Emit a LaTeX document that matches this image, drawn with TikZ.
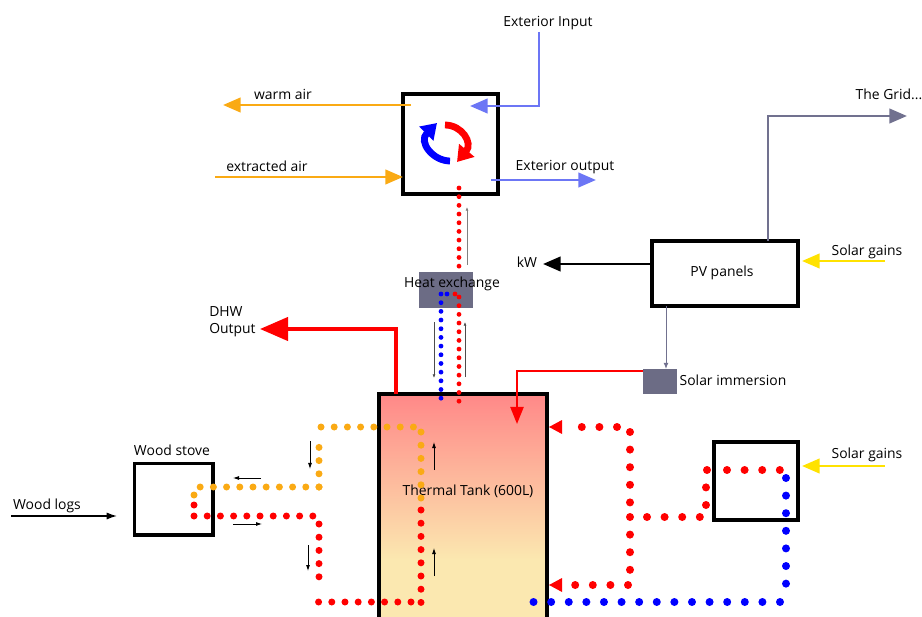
\documentclass[tikz,border=0pt]{standalone}
\usepackage{fontspec}
\setmainfont{Open Sans}
\usetikzlibrary{arrows.meta,calc,positioning}
\definecolor{cair}{RGB}{250,170,20}
\definecolor{cext}{RGB}{108,118,245}
\definecolor{csun}{RGB}{255,226,0}
\definecolor{cslate}{RGB}{108,108,133}
\definecolor{cgrid}{RGB}{113,113,143}
\definecolor{ctanktop}{RGB}{255,136,136}
\definecolor{ctanklow}{RGB}{251,232,176}
\tikzset{
  box/.style={rectangle,draw=black,line width=0.85mm,fill=white,outer sep=0pt,inner sep=0pt},
  hxbox/.style={rectangle,fill=cslate,draw=none,outer sep=0pt,inner sep=0pt},
  lab/.style={font=\fontsize{9.9}{12.6}\selectfont,inner sep=0pt,align=left,yshift=-0.15mm},
  flow/.style={-{Triangle[length=4.4mm,width=3.6mm]},line width=0.7mm},
  hotflow/.style={-{Triangle[length=7mm,width=5.8mm]},line width=0.9mm,red},
  thinflow/.style={-{Latex[length=1.5mm,width=1mm]},line width=0.2mm},
  thinnerflow/.style={-{Latex[length=0.9mm,width=0.7mm]},line width=0.15mm},
  % dotted pipes, three sizes
  pipes/.style={line cap=round,line width=1.2mm,dash pattern=on 0pt off 2.17mm},
  pipem/.style={line cap=round,line width=1.75mm,dash pattern=on 0pt off 3.3mm},
  pipel/.style={line cap=round,line width=2mm,dash pattern=on 0pt off 4.4mm},
  cycle/.style={-{Triangle[length=3.8mm,width=4.8mm]},line width=1.7mm}
}
\begin{document}
\begin{tikzpicture}[x=0.025cm,y=-0.025cm,>=Latex]
  \useasboundingbox (0,0) rectangle (922,617);

  % thermal tank, runs off the bottom edge
  \shade[top color=ctanktop,bottom color=ctanklow] (379,394) rectangle (547,560);
  \fill[ctanklow] (379,559) rectangle (547,617);
  \node[box,fill=none,minimum width=4.2cm,minimum height=6cm,anchor=north west] (tank) at (379,394) {};
  \node[lab] (tanklab) at (468,491) {Thermal Tank (600L)};

  % boxes
  \node[box,minimum width=2.375cm,minimum height=2.5cm,anchor=north west] (hrv) at (403,94) {};
  \node[box,minimum width=3.65cm,minimum height=1.625cm,anchor=north west] (pv) at (652,241) {};
  \node[box,minimum width=1.96cm,minimum height=1.79cm,anchor=north west] (stove) at (134.5,463.5) {};
  \node[box,minimum width=2.1cm,minimum height=1.95cm,anchor=north west] (collector) at (714,442) {};
  \node[hxbox,minimum width=1.35cm,minimum height=0.9cm,anchor=north west] (hx) at (419,272) {};
  \node[hxbox,minimum width=0.85cm,minimum height=0.625cm,anchor=north west] (immersion) at (643,369) {};

  % labels
  \node[lab] (pvlab) at (722,272) {PV panels};
  \node[lab] (hxlab) at (452,283) {Heat exchange};
  \node[lab] (warmlab) at (283,94) {warm air};
  \node[lab] (extractlab) at (267,166) {extracted air};
  \node[lab] (extinlab) at (548,22) {Exterior Input};
  \node[lab] (extoutlab) at (565,166) {Exterior output};
  \node[lab] (gridlab) at (889,94) {The Grid...};
  \node[lab] (kwlab) at (527,262) {kW};
  \node[lab] (sun1lab) at (867,251) {Solar gains};
  \node[lab] (sun2lab) at (867,454) {Solar gains};
  \node[lab] (immlab) at (733,380) {Solar immersion};
  \node[lab,anchor=west] (dhwlab) at (209,321) {DHW\\Output};
  \node[lab] (stovelab) at (172,450) {Wood stove};
  \node[lab] (logslab) at (47,505) {Wood logs};

  % air and electricity
  \coordinate (warmin) at (411,105);
  \coordinate (warmout) at (223,105);
  \draw[flow,cair] (warmin) -- (warmout);
  \coordinate (extractin) at (215,177);
  \draw[flow,cair] (extractin) -- (hrv.west |- extractin);
  \coordinate (extin) at (539,32);
  \coordinate (extend) at (470,106);
  \draw[flow,cext] (extin) |- (extend);
  \coordinate (extstart) at (491,180);
  \coordinate (extout) at (596,180);
  \draw[flow,cext] (extstart) -- (extout);
  \coordinate (kwend) at (543,264);
  \draw[flow,black] (pv.west |- kwend) -- (kwend);
  \coordinate (gridout) at (907,116);
  \coordinate (gridup) at (768,241);
  \draw[flow,cgrid] (gridup) |- (gridout);
  \coordinate (sun1) at (885,261);
  \draw[flow,csun] (sun1) -- (802,261);
  \coordinate (sun2) at (885,466);
  \draw[flow,csun] (sun2) -- (802,466);
  \coordinate (logs) at (11,516);
  \coordinate (logsend) at (117,516);
  \draw[thinflow,line width=0.35mm,-{Latex[length=2.6mm,width=1.8mm]}] (logs) -- (logsend);
  \coordinate (pvdown) at (666,306);
  \draw[-{Latex[length=1.5mm,width=1.2mm]},line width=0.25mm,cgrid] (pvdown) -- (666,369);

  % hot feeds
  \coordinate (dhwup) at (396,394);
  \coordinate (dhwend) at (260,329);
  \draw[hotflow] (dhwup) |- (dhwend);
  \coordinate (immstart) at (643,371);
  \coordinate (immend) at (517,424);
  \draw[-{Triangle[length=4.3mm,width=3.3mm]},line width=0.55mm,red] (immstart) -| (immend);

  % cycle symbol
  \draw[cycle,red] (445,125) .. controls (462,125) and (473,143) .. (457,162);
  \draw[cycle,blue] (450,161) .. controls (433,161) and (418,142) .. (437,123);

  % heat exchange pipes
  \coordinate (ha) at (459,188);
  \coordinate (hb) at (459,270);
  \coordinate (hc) at (459,297);
  \coordinate (hd) at (459,404);
  \coordinate (he) at (441,294);
  \coordinate (hf) at (441,400);
  \draw[pipes,red] (ha) -- (hb);
  \draw[pipes,red] (hc) -- (hd);
  \draw[pipes,red] (455,294) -- (455.2,294);
  \draw[pipes,blue] (he) -- (hf);
  \draw[pipes,blue] (447,294) -- (447.2,294);

  % wood stove loop
  \coordinate (oa) at (321,427);
  \coordinate (ob) at (414,427);
  \coordinate (oc) at (421,432);
  \coordinate (od) at (421,499);
  \coordinate (oe) at (319,487);
  \coordinate (of) at (199,487);
  \coordinate (og) at (319,437);
  \coordinate (ra) at (421,510);
  \coordinate (rb) at (421,603);
  \coordinate (rc) at (411,602);
  \coordinate (rd) at (318,602);
  \coordinate (re) at (319,524);
  \coordinate (rf) at (319,590);
  \coordinate (rg) at (194,516);
  \coordinate (rh) at (314,516);
  \draw[pipem,cair] (oa) -- (ob);
  \draw[pipem,cair] (oc) -- (od);
  \draw[pipem,cair] (oe) -- (of);
  \draw[pipem,cair] (oe) -- (og);
  \draw[pipem,cair] (194,495) -- (194.2,495);
  \draw[pipem,red] (ra) -- (rb);
  \draw[pipem,red] (rc) -- (rd);
  \draw[pipem,red] (re) -- (rf);
  \draw[pipem,red] (rg) -- (rh);
  \draw[pipem,red] (194,505) -- (194.2,505);

  % collector loop
  \coordinate (sa) at (617,427);
  \coordinate (sb) at (581,427);
  \coordinate (sc) at (630,432);
  \coordinate (sd) at (630,503);
  \coordinate (sm) at (630,517);
  \coordinate (sn) at (630,571);
  \coordinate (se) at (628,585);
  \coordinate (sf) at (574,585);
  \coordinate (sg) at (647,517);
  \coordinate (sh) at (701,517);
  \coordinate (si) at (706,505);
  \coordinate (sj) at (706,486);
  \coordinate (sk) at (727,470);
  \coordinate (sl) at (780,470);
  \coordinate (ba) at (786,478);
  \coordinate (bb) at (786,585);
  \coordinate (bc) at (780,602);
  \coordinate (bd) at (533,602);
  \draw[pipel,red] (sa) -- (sb);
  \draw[pipel,red] (sc) -- (sd);
  \draw[pipel,red] (sm) -- (sn);
  \draw[pipel,red] (se) -- (sf);
  \draw[pipel,red] (sg) -- (sh);
  \draw[pipel,red] (si) -- (sj);
  \draw[pipel,red] (707,470) -- (707.2,470);
  \draw[pipel,red] (sk) -- (sl);
  \draw[pipel,blue] (ba) -- (bb);
  \draw[pipel,blue] (bc) -- (bd);

  % inlets on the tank
  \fill[red] (549,427) -- (562,420) -- (562,434) -- cycle;
  \fill[red] (549,585) -- (562,578) -- (562,592) -- cycle;

  % small flow arrows
  \draw[thinnerflow,gray] (467,265) -- (467,207);
  \draw[thinnerflow,black!70] (434,322) -- (434,378);
  \draw[thinnerflow,black!70] (465,377) -- (465,322);
  \draw[thinflow] (261,478) -- (233,478);
  \draw[thinflow] (233,524) -- (262,524);
  \draw[thinflow] (310,441) -- (310,469);
  \draw[thinflow] (308,545) -- (308,571);
  \draw[thinflow] (434,470) -- (434,442);
  \draw[thinflow] (434,576) -- (434,548);
\end{tikzpicture}
\end{document}
